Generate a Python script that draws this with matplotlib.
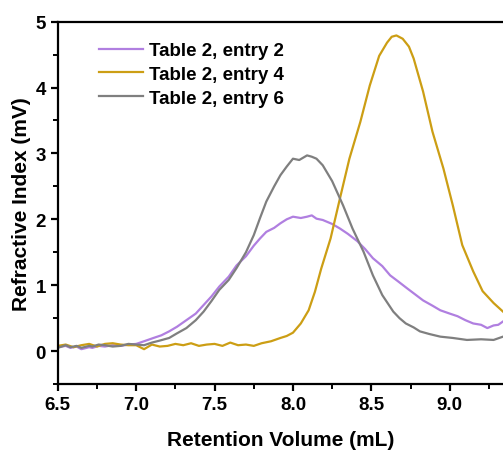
import matplotlib
matplotlib.use('Agg')
import matplotlib.pyplot as plt
from matplotlib.ticker import MultipleLocator, FormatStrFormatter

plt.rcParams['font.family'] = ['Liberation Sans', 'DejaVu Sans']
plt.rcParams['font.weight'] = 'bold'

# Table 2, entry 2 (purple)
x_e2 = [6.50, 6.55, 6.58, 6.62, 6.65, 6.70, 6.72, 6.76, 6.80, 6.85, 6.90, 6.95, 7.00,
        7.05, 7.11, 7.16, 7.21, 7.26, 7.32, 7.38, 7.43, 7.48, 7.53, 7.59, 7.64, 7.70,
        7.75, 7.79, 7.83, 7.88, 7.92, 7.96, 8.00, 8.05, 8.09, 8.12, 8.15, 8.19, 8.25,
        8.30, 8.35, 8.41, 8.46, 8.51, 8.57, 8.62, 8.67, 8.73, 8.78, 8.83, 8.89, 8.94,
        9.00, 9.05, 9.10, 9.15, 9.20, 9.24, 9.28, 9.31, 9.34]
y_e2 = [0.06, 0.08, 0.05, 0.07, 0.03, 0.06, 0.05, 0.08, 0.07, 0.09, 0.08, 0.10, 0.11,
        0.15, 0.20, 0.24, 0.30, 0.37, 0.47, 0.57, 0.70, 0.83, 0.98, 1.13, 1.30, 1.44,
        1.60, 1.71, 1.81, 1.87, 1.94, 2.00, 2.04, 2.02, 2.04, 2.06, 2.01, 1.99, 1.93,
        1.86, 1.78, 1.67, 1.55, 1.41, 1.29, 1.15, 1.06, 0.95, 0.86, 0.77, 0.69, 0.62,
        0.57, 0.53, 0.47, 0.42, 0.40, 0.35, 0.39, 0.40, 0.45]

# Table 2, entry 4 (gold)
x_e4 = [6.50, 6.55, 6.60, 6.65, 6.70, 6.75, 6.80, 6.85, 6.90, 6.95, 7.00, 7.05, 7.10,
        7.15, 7.20, 7.25, 7.30, 7.35, 7.40, 7.45, 7.50, 7.55, 7.60, 7.65, 7.70, 7.75,
        7.80, 7.86, 7.92, 7.96, 8.00, 8.05, 8.10, 8.14, 8.18, 8.24, 8.30, 8.36, 8.43,
        8.49, 8.55, 8.60, 8.63, 8.66, 8.70, 8.74, 8.77, 8.83, 8.89, 8.96, 9.02, 9.08,
        9.15, 9.21, 9.28, 9.34]
y_e4 = [0.08, 0.10, 0.06, 0.09, 0.11, 0.07, 0.11, 0.12, 0.10, 0.09, 0.09, 0.03, 0.10,
        0.07, 0.08, 0.11, 0.09, 0.12, 0.08, 0.10, 0.11, 0.08, 0.13, 0.09, 0.10, 0.08,
        0.12, 0.15, 0.20, 0.23, 0.28, 0.42, 0.62, 0.90, 1.25, 1.71, 2.32, 2.92, 3.48,
        4.03, 4.48, 4.68, 4.77, 4.79, 4.74, 4.62, 4.44, 3.94, 3.33, 2.77, 2.21, 1.61,
        1.21, 0.91, 0.73, 0.60]

# Table 2, entry 6 (gray)
x_e6 = [6.50, 6.55, 6.58, 6.62, 6.65, 6.70, 6.72, 6.76, 6.80, 6.85, 6.90, 6.95, 7.00,
        7.05, 7.10, 7.15, 7.21, 7.26, 7.32, 7.38, 7.43, 7.48, 7.53, 7.59, 7.64, 7.70,
        7.75, 7.79, 7.83, 7.88, 7.92, 7.96, 8.00, 8.04, 8.09, 8.12, 8.15, 8.19, 8.25,
        8.32, 8.38, 8.45, 8.51, 8.57, 8.64, 8.68, 8.72, 8.77, 8.81, 8.87, 8.94, 9.02,
        9.11, 9.20, 9.28, 9.34]
y_e6 = [0.05, 0.09, 0.06, 0.08, 0.05, 0.08, 0.07, 0.10, 0.09, 0.07, 0.08, 0.11, 0.10,
        0.09, 0.13, 0.16, 0.20, 0.27, 0.35, 0.47, 0.60, 0.76, 0.93, 1.08, 1.26, 1.50,
        1.76, 2.02, 2.27, 2.50, 2.67, 2.80, 2.92, 2.90, 2.97, 2.95, 2.92, 2.82, 2.58,
        2.21, 1.86, 1.51, 1.15, 0.85, 0.60, 0.50, 0.42, 0.36, 0.30, 0.26, 0.22, 0.20,
        0.17, 0.18, 0.17, 0.22]

labels = ['Table 2, entry 2', 'Table 2, entry 4', 'Table 2, entry 6']
colors = ['#B07FE0', '#CC9E14', '#7F7F7F']

fig = plt.figure(figsize=(5.03, 4.52), dpi=100)
ax = fig.add_axes([0.115, 0.148, 0.885, 0.802])

ax.plot(x_e2, y_e2, color=colors[0], lw=1.6, label=labels[0])
ax.plot(x_e4, y_e4, color=colors[1], lw=1.6, label=labels[1])
ax.plot(x_e6, y_e6, color=colors[2], lw=1.6, label=labels[2])

ax.set_xlim(6.5, 9.34)
ax.set_ylim(-0.5, 5)
ax.xaxis.set_major_locator(MultipleLocator(0.5))
ax.xaxis.set_minor_locator(MultipleLocator(0.25))
ax.yaxis.set_major_locator(MultipleLocator(1))
ax.yaxis.set_minor_locator(MultipleLocator(0.5))
ax.xaxis.set_major_formatter(FormatStrFormatter('%.1f'))

for s in ['left', 'bottom', 'top']:
    ax.spines[s].set_linewidth(1.6)
ax.spines['right'].set_visible(False)
ax.tick_params(which='major', direction='out', length=5, width=1.6, labelsize=13.5)
ax.tick_params(which='minor', direction='out', length=3.5, width=1.4)
ax.tick_params(top=False, right=False, which='both')

ax.set_xlabel('Retention Volume (mL)', fontsize=15, fontweight='bold', labelpad=12)
ax.set_ylabel('Refractive Index (mV)', fontsize=15, fontweight='bold', labelpad=3)

leg = ax.legend(loc='upper left', bbox_to_anchor=(0.055, 0.99), frameon=False,
                fontsize=13.5, handlelength=2.35, handletextpad=0.3, labelspacing=0.35)
for t in leg.get_texts():
    t.set_fontweight('bold')

fig.savefig('out.png', dpi=100)
